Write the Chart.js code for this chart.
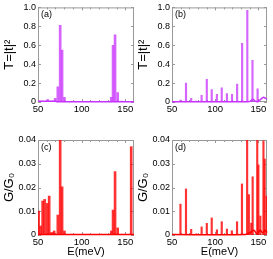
<!DOCTYPE html>
<html>
<head>
<meta charset="utf-8">
<script src="https://cdn.jsdelivr.net/npm/chart.js@4.4.1/dist/chart.umd.min.js"></script>
<style>
  html, body { margin: 0; padding: 0; background: #fff; }
  #wrap { position: relative; width: 273px; height: 259px; overflow: hidden; }
  canvas { position: absolute; }
</style>
</head>
<body>
<div id="wrap">
  <canvas id="chartA" width="137" height="125" style="left:0;top:0"></canvas>
  <canvas id="chartB" width="136" height="125" style="left:134px;top:0"></canvas>
  <canvas id="chartC" width="137" height="134" style="left:0;top:125px"></canvas>
  <canvas id="chartD" width="136" height="134" style="left:134px;top:125px"></canvas>
</div>
<script>
// (a) transmission peaks
const energyA = [52, 56, 61, 64, 67, 69.7, 72.7, 75.4, 77.6, 80.3, 134, 136, 138.3, 141.3, 146];
const transA = [0.01, 0.008, 0.025, 0.01, 0.01, 0.04, 0.16, 0.81, 0.55, 0.05, 0.05, 0.6, 0.71, 0.1, 0.01];
const baseEA = [50, 70, 72, 160];
const baseTA = [0.008, 0.008, 0.003, 0.003];

// (b) transmission peaks
const energyB = [59.8, 66.2, 72.2, 78.2, 84.3, 90.3, 96, 102, 107.6, 113.6, 119.5, 125.4, 131.2, 137.2, 143.2, 149.1];
const transB = [0.02, 0.2, 0.04, 0.01, 0.07, 0.24, 0.13, 0.08, 0.15, 0.09, 0.08, 0.19, 0.62, 0.97, 0.44, 0.14];
const baseEB = [50, 138, 141, 144, 146, 150, 153, 156, 158, 160];
const baseTB = [0.003, 0.003, 0.01, 0.03, 0.01, 0.005, 0.03, 0.05, 0.04, 0.03];

// (c) conductance peaks
const energyC = [50.7, 53, 55.3, 57.6, 60.6, 62.8, 65, 67, 68.5, 72.7, 75.4, 77.6, 80.3, 134, 136, 138.3, 141.3, 156.8];
const condC = [0.0101, 0.0038, 0.0143, 0.015, 0.0133, 0.0164, 0.001, 0.001, 0.0017, 0.0084, 0.04, 0.0203, 0.0017, 0.0017, 0.0105, 0.0267, 0.003, 0.0372];
const baseEC = [50, 160];
const baseGC = [0.0002, 0.0002];

// (d) conductance peaks
const energyD = [59.8, 66.2, 72.2, 78.2, 84.3, 90.3, 96, 102, 107.6, 113.6, 119.3, 125.3, 131, 137, 139, 141.8, 143.4, 148.7, 150, 152.3, 155.9, 157.3, 159.6];
const condD = [0.013, 0.0194, 0.0024, 0.0005, 0.0034, 0.0049, 0.0072, 0.0022, 0.0056, 0.0025, 0.0018, 0.0056, 0.0215, 0.05, 0.017, 0.005, 0.0245, 0.05, 0.0295, 0.008, 0.0396, 0.032, 0.0164];
const baseED = [50, 135, 140, 145, 148, 152, 155, 158, 160];
const baseGD = [0.0002, 0.0002, 0.001, 0.002, 0.0005, 0.002, 0.001, 0.002, 0.001];

const xTicks = [50, 100, 150];
const fontName = 'Liberation Sans, Arial, sans-serif';

// frame with small inward ticks, then the panel label
const framePlugin = {
  id: 'frame',
  beforeDatasetsDraw(chart) {
    const { ctx, chartArea: a, scales } = chart;
    ctx.save();
    ctx.strokeStyle = '#999';
    ctx.lineWidth = 1;
    ctx.strokeRect(a.left + 0.5, a.top + 0.5, a.right - a.left - 1, a.bottom - a.top - 1);
    ctx.beginPath();
    for (let v = 60; v < 160; v += 10) {
      const px = Math.round(scales.x.getPixelForValue(v)) + 0.5;
      const len = v % 50 === 0 ? 3 : 2;
      ctx.moveTo(px, a.bottom); ctx.lineTo(px, a.bottom - len);
      ctx.moveTo(px, a.top); ctx.lineTo(px, a.top + len);
    }
    scales.y.ticks.forEach(t => {
      const py = Math.round(scales.y.getPixelForValue(t.value)) + 0.5;
      ctx.moveTo(a.left, py); ctx.lineTo(a.left + 3, py);
      ctx.moveTo(a.right, py); ctx.lineTo(a.right - 3, py);
    });
    ctx.stroke();
    ctx.restore();
  },
  afterDraw(chart, args, opts) {
    const { ctx, chartArea: a } = chart;
    ctx.save();
    ctx.fillStyle = '#000';
    ctx.font = '9px ' + fontName;
    ctx.textBaseline = 'top';
    ctx.fillText(opts.label, a.left + 3, a.top + 3);
    ctx.restore();
  }
};

function makePanel(id, label, energies, values, baseE, baseV, color, fill, barWidth, yMax, yStep, yTitle, showXTitle) {
  const topPad = showXTitle ? 15 : 5;
  const xHeight = showXTitle ? 24 : 23;
  new Chart(document.getElementById(id), {
    type: 'bar',
    data: {
      datasets: [{
        data: energies.map((e, i) => ({ x: e, y: values[i] })),
        backgroundColor: fill,
        borderWidth: 0,
        barThickness: barWidth
      }, {
        type: 'line',
        data: baseE.map((e, i) => ({ x: e, y: baseV[i] })),
        borderColor: color,
        borderWidth: 1.5,
        pointRadius: 0,
        tension: 0.3,
        clip: 3
      }]
    },
    options: {
      responsive: false,
      animation: false,
      layout: { padding: { top: topPad, right: 3, left: 0, bottom: 0 } },
      plugins: { legend: { display: false }, tooltip: { enabled: false }, frame: { label: label } },
      scales: {
        x: {
          type: 'linear',
          offset: false,
          min: 50,
          max: 160,
          afterBuildTicks: s => { s.ticks = xTicks.map(v => ({ value: v })); },
          afterFit: s => { s.height = xHeight; },
          grid: { display: false, drawTicks: false },
          border: { display: false },
          ticks: { color: '#000', font: { size: 9.5, family: fontName }, padding: 2, maxRotation: 0 },
          title: {
            display: showXTitle,
            text: 'E(meV)',
            color: '#000',
            font: { size: 11, family: fontName },
            padding: { top: 0, bottom: 0 }
          }
        },
        y: {
          min: 0,
          max: yMax,
          afterFit: s => { s.width = 38; },
          grid: { display: false, drawTicks: false },
          border: { display: false },
          ticks: { stepSize: yStep, color: '#000', font: { size: 9, family: fontName }, padding: 2 },
          title: {
            display: true,
            text: yTitle,
            color: '#000',
            font: { size: 13, family: fontName },
            padding: { top: 2, bottom: 0 }
          }
        }
      }
    },
    plugins: [framePlugin]
  });
}

const magenta = 'rgb(200, 50, 255)';
const magentaFill = 'rgba(200, 50, 255, 0.75)';
const red = 'rgb(255, 0, 0)';
const redFill = 'rgba(255, 0, 0, 0.8)';

makePanel('chartA', '(a)', energyA, transA, baseEA, baseTA, magenta, magentaFill, 2, 1, 0.2, 'T=|t|²', false);
makePanel('chartB', '(b)', energyB, transB, baseEB, baseTB, magenta, magentaFill, 1.5, 1, 0.2, 'T=|t|²', false);
makePanel('chartC', '(c)', energyC, condC, baseEC, baseGC, red, redFill, 2, 0.04, 0.01, 'G/G₀', true);
makePanel('chartD', '(d)', energyD, condD, baseED, baseGD, red, redFill, 1.5, 0.04, 0.01, 'G/G₀', true);
</script>
</body>
</html>
